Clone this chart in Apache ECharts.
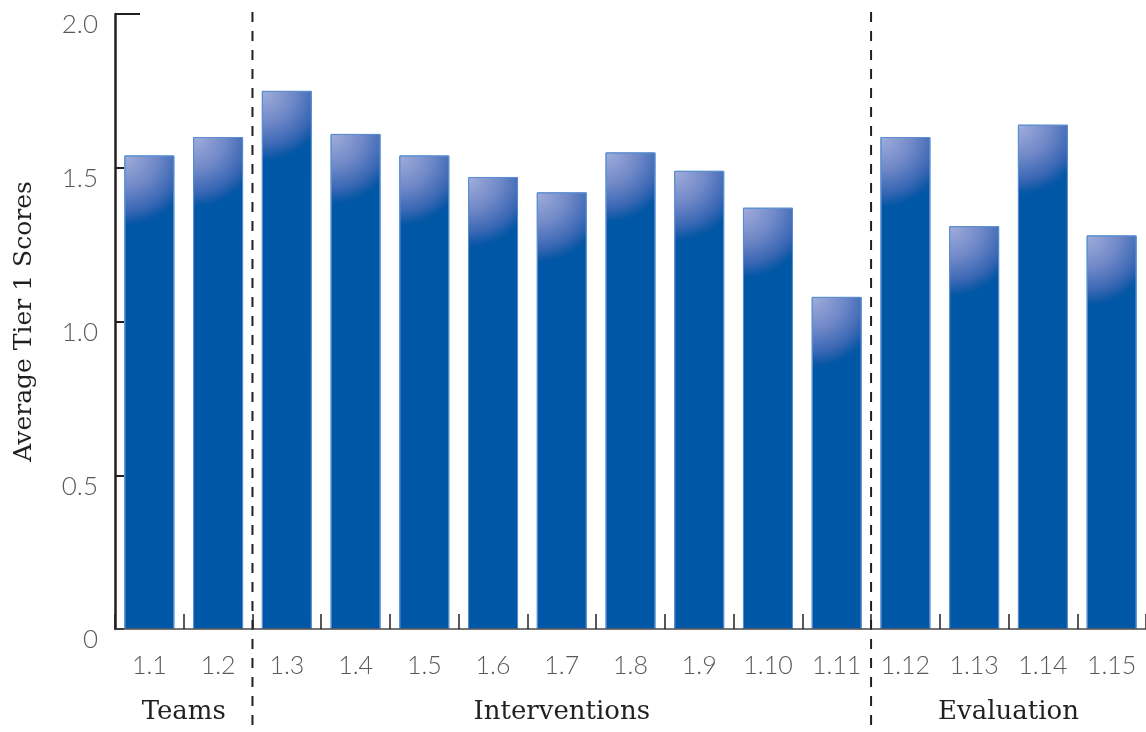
<!DOCTYPE html>
<html>
<head>
<meta charset="utf-8">
<script src="https://cdn.jsdelivr.net/npm/echarts@6/dist/echarts.min.js"></script>
<style>
  html, body { margin: 0; padding: 0; background: #fff; }
  #chart { width: 1146px; height: 732px; }
</style>
</head>
<body>
<div id="chart"></div>
<script>
// Tier 1 item scores, grouped into three sections
const categories = ['1.1', '1.2', '1.3', '1.4', '1.5', '1.6', '1.7', '1.8',
                    '1.9', '1.10', '1.11', '1.12', '1.13', '1.14', '1.15'];
const scores = [1.54, 1.60, 1.75, 1.61, 1.54, 1.47, 1.42, 1.55,
                1.49, 1.37, 1.08, 1.60, 1.31, 1.64, 1.28];
const yTicks = [0, 0.5, 1.0, 1.5, 2.0];
// section name with first and last category index
const groups = [
  { name: 'Teams', from: 0, to: 1 },
  { name: 'Interventions', from: 2, to: 10 },
  { name: 'Evaluation', from: 11, to: 14 }
];

const ink = '#231f20';
const grey = '#58595b';
const slab = '"DejaVu Serif", serif';
const thin = 'Lato, "Open Sans", sans-serif';

const chart = echarts.init(document.getElementById('chart'));

const barFill = {
  type: 'radial', x: 0, y: 0, r: 1.42,
  colorStops: [
    { offset: 0, color: '#a2aedb' },
    { offset: 0.45, color: '#7189c8' },
    { offset: 0.78, color: '#3a67b4' },
    { offset: 0.95, color: '#0a58a6' },
    { offset: 1, color: '#0057a5' }
  ]
};

chart.setOption({
  animation: false,
  grid: { left: 115, right: -2, top: 14, bottom: 103 },
  xAxis: {
    type: 'category',
    data: categories,
    z: 5,
    axisLine: { lineStyle: { color: '#4a4a4a', width: 1.5 } },
    axisTick: { show: true, interval: 0, inside: true, length: 15, lineStyle: { color: ink, width: 1.5 } },
    axisLabel: { interval: 0, color: grey, fontFamily: thin, fontWeight: 300, fontSize: 25, margin: 24 }
  },
  yAxis: {
    type: 'value',
    min: yTicks[0],
    max: yTicks[yTicks.length - 1],
    interval: 0.5,
    name: 'Average Tier 1 Scores',
    nameLocation: 'middle',
    nameGap: 78,
    nameTextStyle: { color: ink, fontFamily: slab, fontSize: 25 },
    splitLine: { show: false },
    axisLine: { show: true, lineStyle: { color: ink, width: 2.5 } },
    axisTick: { show: true, inside: true, length: 9, lineStyle: { color: ink, width: 2 } },
    axisLabel: {
      color: grey, fontFamily: thin, fontWeight: 300, fontSize: 26, margin: 17,
      verticalAlign: 'top', padding: [-2, 0, 0, 0],
      formatter: v => (v === 0 ? '0' : v.toFixed(1))
    }
  },
  series: [{
    type: 'bar',
    data: scores,
    barWidth: 50,
    itemStyle: { color: barFill, borderColor: '#5a8ed0', borderWidth: 1 }
  }]
});

// section dividers, section titles and the long cap tick on the y axis
function decorate() {
  const px = i => chart.convertToPixel({ xAxisIndex: 0 }, i);
  const py = v => chart.convertToPixel({ yAxisIndex: 0 }, v);
  const baseY = py(0);
  const topY = py(yTicks[yTicks.length - 1]);
  const elements = [];

  groups.forEach((g, k) => {
    const cx = (px(g.from) + px(g.to)) / 2;
    elements.push({
      type: 'text', x: cx, y: baseY + 83,
      style: { text: g.name, fill: ink, font: '26px ' + slab, align: 'center', verticalAlign: 'middle' }
    });
    if (k > 0) {
      const bx = (px(g.from - 1) + px(g.from)) / 2;
      elements.push({
        type: 'line',
        shape: { x1: bx, y1: 12, x2: bx, y2: 732 },
        style: { stroke: ink, lineWidth: 2, lineDash: [10, 9] }
      });
    }
  });

  const ax = chart.getModel().getComponent('grid').coordinateSystem.getRect().x;
  elements.push({
    type: 'line',
    shape: { x1: ax, y1: topY, x2: ax + 25, y2: topY },
    style: { stroke: ink, lineWidth: 2 }
  });

  chart.setOption({ graphic: { elements } });
}
decorate();
</script>
</body>
</html>
